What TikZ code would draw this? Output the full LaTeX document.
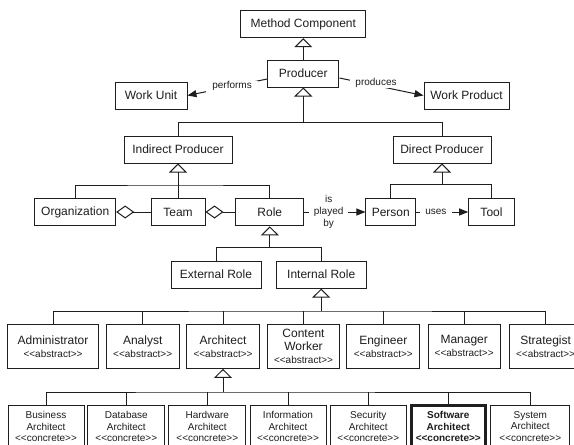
\documentclass[tikz,border=0pt]{standalone}
\usepackage{fontspec}
\setmainfont{Liberation Sans}[Ligatures=TeXOff]
\usetikzlibrary{arrows.meta}
\definecolor{ink}{HTML}{1E1E1E}
\newcommand\abst{{\fontsize{10}{13}\selectfont <<abstract>>}}
\newcommand\conc{<<concrete>>}
\tikzset{
  box/.style={draw=ink, text=ink, line width=1pt, inner sep=0pt, align=center,
    font=\fontsize{12}{13}\selectfont, minimum height=27pt},
  absbox/.style={box, minimum height=44.3pt},
  concbox/.style={box, minimum height=43pt, font=\fontsize{10}{11.5}\selectfont},
  lbl/.style={font=\fontsize{10}{11.7}\selectfont, text=ink, fill=white, inner ysep=1pt, align=center},
  gen/.style={draw=ink, line width=1pt, -{Triangle[open,length=9pt,width=18pt]}},
  agg/.style={draw=ink, line width=1pt, -{Diamond[open,length=18pt,width=13pt]}},
  assoc/.style={draw=ink, line width=1pt, -{Triangle[length=9pt,width=7pt]}},
  tree/.style={draw=ink, line width=1pt},
}
\begin{document}
\begin{tikzpicture}[x=1pt,y=-1pt]
\useasboundingbox (0,0) rectangle (574,445);
\fill[white] (0,0) rectangle (574,445);
\clip (0,0) rectangle (574,445);

% top
\node[box, minimum width=125.3pt] (mc) at (303.3,24.2) {Method Component};
\node[box, minimum width=71.3pt] (prod) at (303.3,73.5) {Producer};
\node[box, minimum width=72pt] (wu) at (151,95.5) {Work Unit};
\node[box, minimum width=85pt] (wp) at (466.5,95.5) {Work Product};
\node[box, minimum width=108pt] (ip) at (178,149.5) {Indirect Producer};
\node[box, minimum width=98pt] (dp) at (442,149.5) {Direct Producer};

% middle row
\node[box, minimum width=81pt, minimum height=27.7pt] (org) at (75.2,212) {Organization};
\node[box, minimum width=54pt, minimum height=27.7pt] (team) at (178,212) {Team};
\node[box, minimum width=67.7pt, minimum height=27.7pt] (role) at (269.8,212) {Role};
\node[box, minimum width=49.7pt, minimum height=27.7pt] (person) at (390.8,212) {Person};
\node[box, minimum width=45.6pt, minimum height=27.7pt] (tool) at (491.5,212) {Tool};

\node[box, minimum width=90pt] (ext) at (216,274.6) {External Role};
\node[box, minimum width=90.3pt] (int) at (321.2,274.6) {Internal Role};

% abstract roles
\node[absbox, minimum width=91.4pt] (adm) at (53,346.2) {Administrator\\\abst};
\node[absbox, minimum width=73.3pt] (ana) at (142.7,346.2) {Analyst\\\abst};
\node[absbox, minimum width=72.6pt] (arch) at (223,346.2) {Architect\\\abst};
\node[absbox, minimum width=71.6pt] (cw) at (303.5,346.2) {Content\\Worker\\\abst};
\node[absbox, minimum width=72.7pt] (eng) at (383.3,346.2) {Engineer\\\abst};
\node[absbox, minimum width=72.3pt] (man) at (464.2,346.2) {Manager\\\abst};
\node[absbox, minimum width=72.7pt] (str) at (545.6,346.2) {Strategist\\\abst};

% concrete architects
\node[concbox, minimum width=76pt] (bus) at (46,426.5) {Business\\Architect\\\conc};
\node[concbox, minimum width=77.3pt] (db) at (126.3,426.5) {Database\\Architect\\\conc};
\node[concbox, minimum width=76.7pt] (hw) at (207.3,426.5) {Hardware\\Architect\\\conc};
\node[concbox, minimum width=76pt] (info) at (288,426.5) {Information\\Architect\\\conc};
\node[concbox, minimum width=76pt] (sec) at (368.3,426.5) {Security\\Architect\\\conc};
\node[concbox, minimum width=74pt, line width=3pt] (sw) at (448.3,426.5) {\textbf{Software}\\\textbf{Architect}\\\textbf{\conc}};
\node[concbox, minimum width=78.7pt] (sys) at (530.3,426.5) {System\\Architect\\\conc};

% generalizations
\draw[gen] (prod.north) -- (mc.south);

\coordinate (pbus) at (303.3,122.7);
\draw[tree] (ip.north) |- (pbus) -| (dp.north);
\draw[gen] (pbus) -- (prod.south);

\coordinate (ipbus) at (178,185);
\draw[tree] (org.north) |- (ipbus) -| (role.north);
\draw[gen] (team.north) -- (ip.south);

\coordinate (dpbus) at (442,184.3);
\draw[tree] (person.north) |- (dpbus) -| (tool.north);
\draw[gen] (dpbus) -- (dp.south);

\coordinate (rbus) at (269.8,247.7);
\draw[tree] (ext.north) |- (rbus) -| (int.north);
\draw[gen] (rbus) -- (role.south);

\coordinate (ibus) at (321.2,311);
\draw[tree] (adm.north) |- (ibus) -| (str.north);
\foreach \n in {ana,arch,cw,eng,man} \draw[tree] (\n.north) -- (\n.north |- ibus);
\draw[gen] (ibus) -- (int.south);

\coordinate (abus) at (223,392);
\draw[tree] (bus.north) |- (abus) -| (sys.north);
\foreach \n in {db,hw,info,sec,sw} \draw[tree] (\n.north) -- (\n.north |- abus);
\draw[gen] (abus) -- (arch.south);

% aggregations
\draw[agg] (team.west) -- (org.east);
\draw[agg] (role.west) -- (team.east);

% associations
\draw[assoc] ([yshift=-5.5pt]prod.west) -- node[lbl, pos=0.44, inner xsep=6pt] {performs} (wu.east);
\draw[assoc] ([yshift=-4.5pt]prod.east) -- node[lbl, pos=0.435, inner xsep=5pt, yshift=3pt] {produces} (wp.west);
\draw[assoc] (role.east) -- node[lbl, pos=0.4, inner xsep=5pt] {is\\played\\by} (person.west);
\draw[assoc] (person.east) -- node[lbl, pos=0.38, inner xsep=5.5pt] {uses} (tool.west);
\end{tikzpicture}
\end{document}
